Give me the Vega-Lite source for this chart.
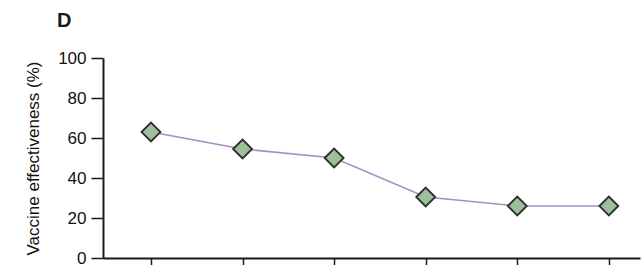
{
  "$schema": "https://vega.github.io/schema/vega-lite/v6.json",
  "autosize": "none",
  "width": 537,
  "height": 200,
  "padding": {"left": 103, "top": 58, "right": 4, "bottom": 7},
  "background": "white",
  "title": {"text": "D", "anchor": "start", "frame": "group", "dx": -46, "offset": 18, "font": "Liberation Sans", "fontSize": 20, "fontWeight": "bold", "color": "#1a1a1a"},
  "data": {"values": [
    {"period": 1, "effectiveness": 63},
    {"period": 2, "effectiveness": 54.5},
    {"period": 3, "effectiveness": 50},
    {"period": 4, "effectiveness": 30.5},
    {"period": 5, "effectiveness": 26},
    {"period": 6, "effectiveness": 26}
  ]},
  "config": {"view": {"stroke": null}},
  "encoding": {
    "x": {"field": "period", "type": "quantitative",
      "scale": {"domain": [0.476, 6.34], "nice": false, "zero": false},
      "axis": {"title": null, "labels": false, "values": [1, 2, 3, 4, 5, 6], "grid": false,
        "domainColor": "#1a1a1a", "domainWidth": 2, "tickColor": "#1a1a1a", "tickWidth": 1.5, "tickSize": 10}},
    "y": {"field": "effectiveness", "type": "quantitative",
      "scale": {"domain": [0, 100], "nice": false},
      "axis": {"title": "Vaccine effectiveness (%)", "values": [0, 20, 40, 60, 80, 100], "grid": false,
        "domainColor": "#1a1a1a", "domainWidth": 2, "tickColor": "#1a1a1a", "tickWidth": 1.5, "tickSize": 12,
        "labelFont": "Liberation Sans", "labelFontSize": 17, "labelColor": "#111111", "labelPadding": 5,
        "titleFont": "Liberation Sans", "titleFontSize": 17, "titleFontWeight": "normal", "titleColor": "#111111", "titlePadding": 15}}
  },
  "layer": [
    {"mark": {"type": "line", "color": "#a98bc4", "strokeWidth": 1.5}},
    {"mark": {"type": "point", "shape": "diamond", "size": 360, "filled": true, "fill": "#9dbf9b", "stroke": "#2e2e2e", "strokeWidth": 1.8, "opacity": 1}}
  ]
}
